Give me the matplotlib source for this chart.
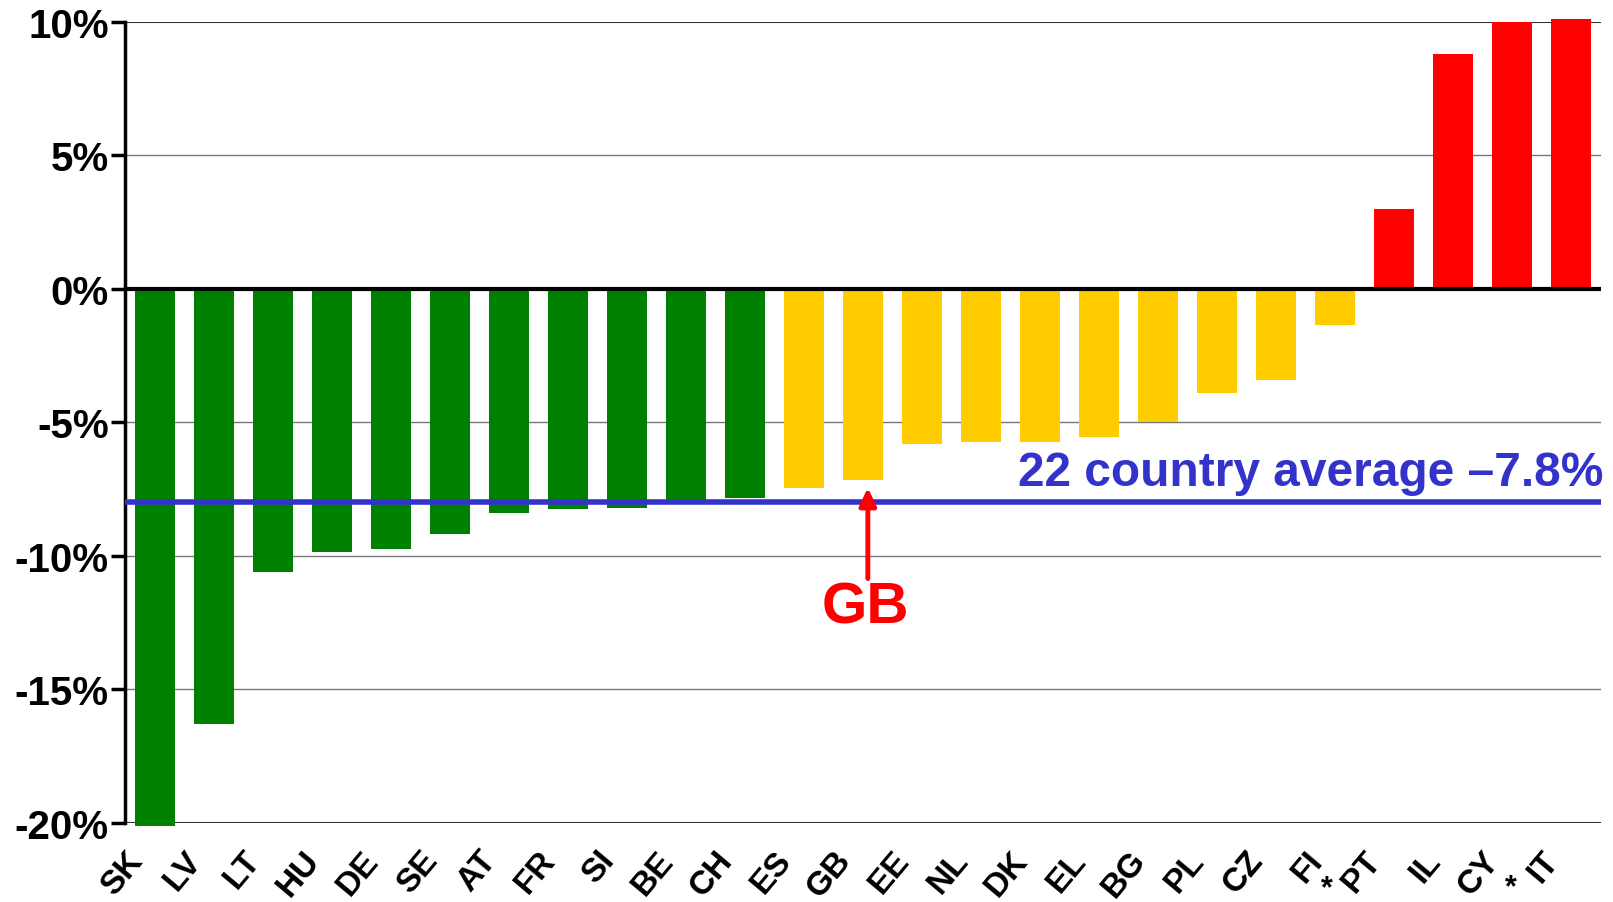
import matplotlib
matplotlib.use("Agg")
import matplotlib.pyplot as plt
import matplotlib.transforms as mtransforms

plt.rcParams['font.family'] = ['Liberation Sans', 'DejaVu Sans']
plt.rcParams['font.weight'] = 'bold'

# country codes, left to right
countries = ['SK', 'LV', 'LT', 'HU', 'DE', 'SE', 'AT', 'FR', 'SI', 'BE', 'CH',
             'ES', 'GB', 'EE', 'NL', 'DK', 'EL', 'BG', 'PL', 'CZ', 'FI',
             'PT', 'IL', 'CY', 'IT']
# countries marked with an asterisk
starred = ['PT', 'IT']
# change in %
change = [-20.1, -16.3, -10.6, -9.85, -9.75, -9.2, -8.4, -8.25, -8.2, -7.9, -7.85,
          -7.45, -7.15, -5.8, -5.75, -5.75, -5.55, -5.0, -3.9, -3.4, -1.35,
          3.0, 8.8, 10.0, 10.1]
# colour group of each bar
group = ['green'] * 11 + ['amber'] * 10 + ['red'] * 4
palette = {'green': '#008000', 'amber': '#FFCC00', 'red': '#FF0000'}

avg_line = -8.0
avg_label = '22 country average \u20137.8%'

fig = plt.figure(figsize=(16.13, 9.03), dpi=100)
ax = fig.add_axes([0.0778, 0.0875, 0.9146, 0.8875])

x = list(range(len(countries)))
ax.bar(x, change, width=0.68, color=[palette[g] for g in group], zorder=2, clip_on=False)

# grid lines
for v in [5, -5, -10, -15]:
    ax.axhline(v, color='#777777', lw=1.0, zorder=1)
ax.axhline(10, color='#333333', lw=1.5, zorder=1)
ax.axhline(-20, color='#333333', lw=1.5, zorder=1)
ax.axhline(0, color='black', lw=3, zorder=3)

# average line
ax.axhline(avg_line, color='#3333CC', lw=4, zorder=4)
ax.text(24.55, -7.35, avg_label, color='#3333CC', fontsize=34.5, fontweight='bold',
        ha='right', va='baseline', zorder=5)

# GB callout
gb = countries.index('GB')
ax.annotate('', xy=(gb + 0.08, -7.45), xytext=(gb + 0.08, -10.85),
            arrowprops=dict(arrowstyle='-|>,head_width=0.5,head_length=1.05',
                            color='#FF0000', lw=3.5, shrinkA=0, shrinkB=0), zorder=5)
ax.text(gb + 0.04, -11.95, 'GB', color='#FF0000', fontsize=42, fontweight='bold',
        ha='center', va='center')

ax.set_xlim(-0.5, 24.5)
ax.set_ylim(-20, 10)
ax.set_yticks([10, 5, 0, -5, -10, -15, -20])
ax.set_yticklabels(['10%', '5%', '0%', '-5%', '-10%', '-15%', '-20%'], fontsize=29,
                   fontweight='bold')
ax.tick_params(axis='y', length=10, width=2.5, pad=2, color='black')
ax.set_xticks(x)
ax.set_xticklabels(countries, rotation=50, ha='right', va='top', rotation_mode='anchor',
                   fontsize=24, fontweight='bold')
ax.tick_params(axis='x', length=0, pad=12)
shift = mtransforms.ScaledTranslation(-0.30, -0.05, fig.dpi_scale_trans)
for lbl in ax.get_xticklabels():
    lbl.set_transform(lbl.get_transform() + shift)

# small asterisks at the lower-left start of the starred labels
star_dx = {'PT': -1.15, 'IT': -1.02}
star_y = {'PT': -22.45, 'IT': -22.4}
for c in starred:
    i = countries.index(c)
    ax.text(i + star_dx[c], star_y[c], '*', fontsize=22, fontweight='bold', ha='center',
            va='center', clip_on=False)

for s in ['top', 'right', 'bottom']:
    ax.spines[s].set_visible(False)
ax.spines['left'].set_linewidth(2.5)

fig.savefig('out.png', dpi=100)
